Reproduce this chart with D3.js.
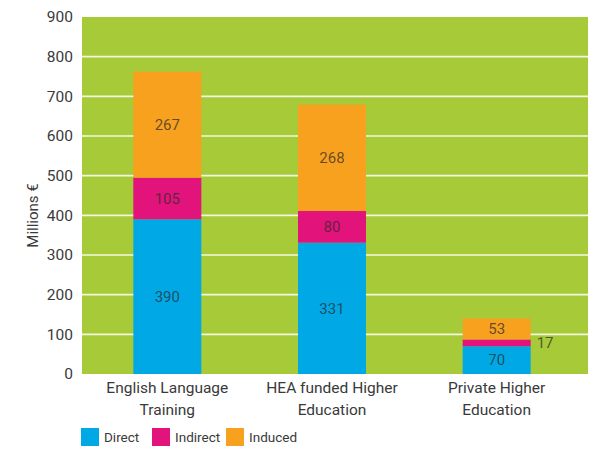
<!DOCTYPE html>
<html><head><meta charset="utf-8">
<script src="https://cdn.jsdelivr.net/npm/d3@7/dist/d3.min.js"></script>
<style>body{margin:0;background:#fff;}svg{display:block;font-family:Roboto,"DejaVu Sans",sans-serif;}</style>
</head><body><svg id="chart" width="600" height="462"></svg>
<script>
const categories = [["English Language","Training"],["HEA funded Higher","Education"],["Private Higher","Education"]];
const seriesNames = ["Direct","Indirect","Induced"];
const direct = [390,331,70];
const indirect = [105,80,17];
const induced = [267,268,53];
const yTicks = [0,100,200,300,400,500,600,700,800,900];
const colors = ["#00a8e6","#e2147b","#f7a11f"];

const svg = d3.select("#chart");
const pLeft=82,pRight=588,pTop=17,pBottom=374;
const x = d3.scaleBand().domain(d3.range(categories.length)).range([85,579]).paddingInner(0.587).paddingOuter(0.2935);
const y = d3.scaleLinear().domain([0,900]).range([pBottom,pTop]);

svg.append("rect").attr("x",pLeft).attr("y",pTop).attr("width",pRight-pLeft).attr("height",pBottom-pTop).attr("fill","#a7cb38");
svg.selectAll(".grid").data(yTicks.filter(t=>t>0&&t<900)).enter().append("line")
  .attr("x1",pLeft).attr("x2",pRight).attr("y1",d=>y(d)).attr("y2",d=>y(d))
  .attr("stroke","#f4f8e0").attr("stroke-width",1.6);

const rows = categories.map((c,i)=>({i, Direct:direct[i], Indirect:indirect[i], Induced:induced[i]}));
const stacked = d3.stack().keys(seriesNames)(rows);
stacked.forEach((s,si)=>{
  const g = svg.append("g");
  g.selectAll("rect").data(s).enter().append("rect")
    .attr("x",d=>x(d.data.i)).attr("width",x.bandwidth())
    .attr("y",d=>y(d[1])).attr("height",d=>y(d[0])-y(d[1]))
    .attr("fill",colors[si]);
  g.selectAll("text").data(s).enter().append("text")
    .attr("x",d=>{const v=d[1]-d[0]; return v<30 ? x(d.data.i)+x.bandwidth()+6 : x(d.data.i)+x.bandwidth()/2;})
    .attr("text-anchor",d=>(d[1]-d[0])<30?"start":"middle")
    .attr("y",d=>y((d[0]+d[1])/2)).attr("dy","0.35em")
    .attr("font-size",15).attr("fill","#2a2a2a").attr("fill-opacity",0.72)
    .text(d=>d[1]-d[0]);
});

const yAxis = svg.append("g").attr("transform",`translate(${pLeft},0)`)
  .call(d3.axisLeft(y).tickValues(yTicks).tickSize(0).tickPadding(9));
yAxis.select(".domain").remove();
yAxis.selectAll("text").attr("font-size",15.5).attr("fill","#3a3a3a").attr("font-family","Roboto,sans-serif");

svg.append("text").attr("transform",`translate(38,${(pTop+pBottom)/2+20}) rotate(-90)`)
  .attr("text-anchor","middle").attr("font-size",15).attr("fill","#3a3a3a").text("Millions €");

categories.forEach((c,i)=>{
  const t = svg.append("text").attr("x",x(i)+x.bandwidth()/2).attr("y",393)
    .attr("text-anchor","middle").attr("font-size",15.5).attr("fill","#3a3a3a");
  c.forEach((line,j)=>t.append("tspan").attr("x",x(i)+x.bandwidth()/2).attr("dy",j?22:0).text(line));
});

const legX=[81,152,226];
seriesNames.forEach((n,i)=>{
  svg.append("rect").attr("x",legX[i]).attr("y",428).attr("width",18).attr("height",18).attr("fill",colors[i]);
  svg.append("text").attr("x",legX[i]+23).attr("y",437).attr("dy","0.35em").attr("font-size",13.5).attr("fill","#3a3a3a").text(n);
});
</script></body></html>
